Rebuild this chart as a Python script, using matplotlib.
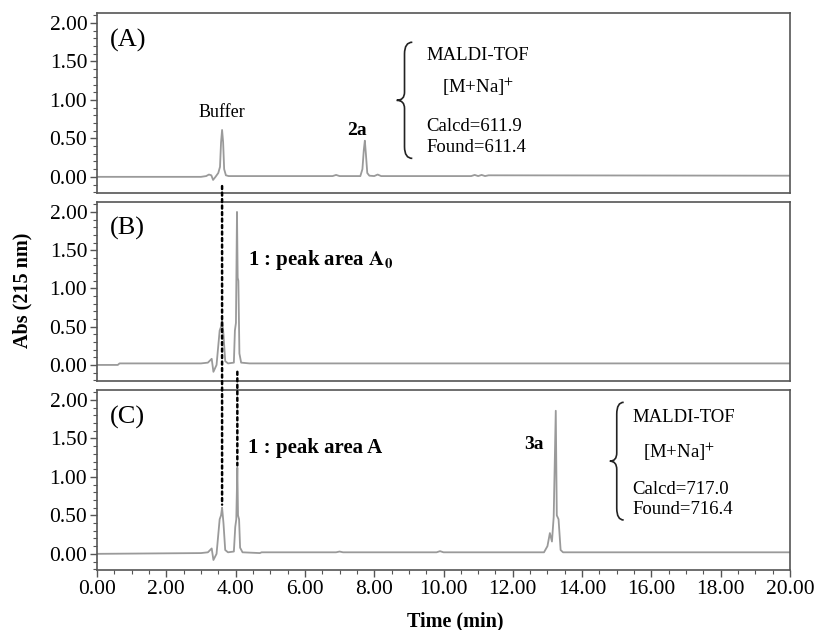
import numpy as np
import matplotlib
matplotlib.use("Agg")
import matplotlib.pyplot as plt
from matplotlib.path import Path
from matplotlib.patches import PathPatch, ConnectionPatch
from matplotlib.ticker import MultipleLocator, FormatStrFormatter

plt.rcParams["font.family"] = ["Liberation Serif", "DejaVu Serif"]
plt.rcParams["mathtext.fontset"] = "stix"

# chromatogram traces (time in min, absorbance)
time_a = [0, 3.0, 3.15, 3.23, 3.3, 3.35, 3.42, 3.5, 3.55, 3.58, 3.61, 3.64, 3.67, 3.72, 3.8,
          6.8, 6.9, 7.0, 7.6, 7.66, 7.7, 7.73, 7.76, 7.8, 7.86, 8.0, 8.1, 8.2, 8.4,
          10.8, 10.9, 11.0, 11.1, 11.2, 11.3, 20]
abs_a = [0, 0, 0.01, 0.03, 0.02, -0.04, 0.0, 0.05, 0.13, 0.45, 0.61, 0.45, 0.1, 0.02, 0.01,
         0.01, 0.025, 0.01, 0.01, 0.1, 0.35, 0.47, 0.3, 0.05, 0.015, 0.01, 0.03, 0.01, 0.01,
         0.01, 0.025, 0.01, 0.025, 0.01, 0.02, 0.015]

time_b = [0, 0.6, 0.65, 3.0, 3.2, 3.31, 3.36, 3.45, 3.54, 3.58, 3.61, 3.65, 3.7, 3.78,
          3.95, 3.98, 4.01, 4.04, 4.06, 4.08, 4.11, 4.16, 4.4, 20]
abs_b = [0, 0, 0.02, 0.02, 0.03, 0.08, -0.09, 0.0, 0.45, 0.5, 0.6, 0.4, 0.05, 0.02,
         0.03, 0.45, 0.55, 2.0, 1.14, 1.1, 0.15, 0.03, 0.02, 0.02]

time_c = [0, 3.0, 3.2, 3.31, 3.36, 3.45, 3.54, 3.58, 3.61, 3.65, 3.7, 3.78,
          3.95, 3.99, 4.02, 4.05, 4.07, 4.1, 4.13, 4.2, 4.7, 4.75, 6.9, 7.0, 7.1,
          9.8, 9.9, 10.0, 12.9, 13.0, 13.07, 13.13, 13.18, 13.24, 13.27, 13.32, 13.38, 13.45, 20]
abs_c = [0, 0.01, 0.02, 0.07, -0.08, 0.0, 0.45, 0.5, 0.6, 0.4, 0.05, 0.02,
         0.03, 0.35, 0.45, 1.12, 0.5, 0.45, 0.08, 0.02, 0.01, 0.02, 0.02, 0.03, 0.02,
         0.02, 0.035, 0.02, 0.02, 0.1, 0.27, 0.16, 0.48, 1.86, 0.5, 0.45, 0.05, 0.02, 0.02]

panel_labels = ["(A)", "(B)", "(C)"]
buffer_rt = 3.61
cmpd1_rt = 4.05
ms_a = ["MALDI-TOF", "[M+Na]$^{+}$", "Calcd=611.9", "Found=611.4"]
ms_c = ["MALDI-TOF", "[M+Na]$^{+}$", "Calcd=717.0", "Found=716.4"]

fig = plt.figure(figsize=(8.18, 6.30), dpi=100)
W, H = 818, 630


def px_axes(top, bottom):
    return [97 / W, 1 - bottom / H, (790 - 97) / W, (bottom - top) / H]


axA = fig.add_axes(px_axes(13, 193))
axB = fig.add_axes(px_axes(202, 381))
axC = fig.add_axes(px_axes(390, 570))
axes = [axA, axB, axC]

spine_col = "#555555"
for ax, t, a, lab in zip(axes, [time_a, time_b, time_c], [abs_a, abs_b, abs_c], panel_labels):
    ax.plot(t, a, color="#9a9a9a", lw=1.3)
    ax.set_xlim(0, 20)
    ax.set_ylim(-0.21, 2.13)
    ax.yaxis.set_major_locator(MultipleLocator(0.5))
    ax.yaxis.set_minor_locator(MultipleLocator(0.1))
    ax.yaxis.set_major_formatter(FormatStrFormatter("%.2f"))
    ax.xaxis.set_major_locator(MultipleLocator(2))
    ax.xaxis.set_minor_locator(MultipleLocator(0.5))
    ax.xaxis.set_major_formatter(FormatStrFormatter("%.2f"))
    ax.tick_params(axis="both", which="major", direction="out", length=5, width=1,
                   color=spine_col, labelsize=15.5, pad=2)
    ax.tick_params(axis="both", which="minor", direction="out", length=3, width=0.8,
                   color=spine_col)
    ax.tick_params(axis="y", which="both", right=False)
    ax.tick_params(axis="x", which="both", top=False)
    for s in ax.spines.values():
        s.set_color(spine_col)
        s.set_linewidth(1.2)
    ax.text(0.018, 0.85, lab, transform=ax.transAxes, fontsize=19, va="center", ha="left")

for ax in [axA, axB]:
    ax.tick_params(axis="x", which="both", bottom=False, labelbottom=False)


def brace(ax, x_tip, x_arm, y_bot, y_top):
    xm = (x_tip + x_arm) / 2
    ym = (y_bot + y_top) / 2
    h = y_top - y_bot
    verts = [(x_arm, y_top), (xm, y_top), (xm, y_top - 0.1 * h),
             (xm, ym + 0.07 * h),
             (xm, ym), (x_tip, ym),
             (xm, ym), (xm, ym - 0.07 * h),
             (xm, y_bot + 0.1 * h),
             (xm, y_bot), (x_arm, y_bot)]
    codes = [Path.MOVETO, Path.CURVE3, Path.CURVE3, Path.LINETO,
             Path.CURVE3, Path.CURVE3, Path.CURVE3, Path.CURVE3,
             Path.LINETO, Path.CURVE3, Path.CURVE3]
    ax.add_patch(PathPatch(Path(verts, codes), fill=False, lw=1.2, color="#222222"))


def ms_block(ax, x_left, x_ind, ys, lines):
    for i, (yy, s) in enumerate(zip(ys, lines)):
        xx = x_ind if i == 1 else x_left
        ax.text(xx, yy, s, fontsize=13.5, ha="left", va="center")


# panel A annotations
axA.text(3.6, 0.84, "Buffer", fontsize=13, ha="center", va="center")
axA.text(7.5, 0.6, "2a", fontsize=14, fontweight="bold", ha="center", va="center")
brace(axA, 8.65, 9.1, 0.24, 1.75)
ms_block(axA, 9.5, 9.95, [1.58, 1.17, 0.65, 0.38], ms_a)

# panel B annotations
axB.text(4.35, 1.37, r"1 : peak area $\mathbf{A_0}$", fontsize=15, fontweight="bold",
         ha="left", va="center")

# panel C annotations
axC.text(4.35, 1.37, "1 : peak area A", fontsize=15, fontweight="bold",
         ha="left", va="center")
axC.text(12.6, 1.42, "3a", fontsize=14, fontweight="bold", ha="center", va="center")
brace(axC, 14.8, 15.2, 0.44, 1.97)
ms_block(axC, 15.45, 15.75, [1.77, 1.33, 0.84, 0.58], ms_c)

# dotted guide lines across panels
for xa, ya, xc, yc, axfrom in [(buffer_rt, -0.12, buffer_rt, 0.64, axA),
                               (cmpd1_rt, -0.09, cmpd1_rt, 1.15, axB)]:
    con = ConnectionPatch(xyA=(xa, ya), coordsA=axfrom.transData,
                          xyB=(xc, yc), coordsB=axC.transData,
                          color="black", lw=1.8, linestyle=(0, (1.2, 1.4)))
    fig.add_artist(con)

fig.text(22 / W, 1 - 290 / H, "Abs (215 nm)", rotation=90, fontsize=14.5,
         fontweight="bold", ha="center", va="center")
fig.text(455 / W, 1 - 621 / H, "Time (min)", fontsize=14.5, fontweight="bold",
         ha="center", va="center")

fig.savefig("out.png", dpi=100)
